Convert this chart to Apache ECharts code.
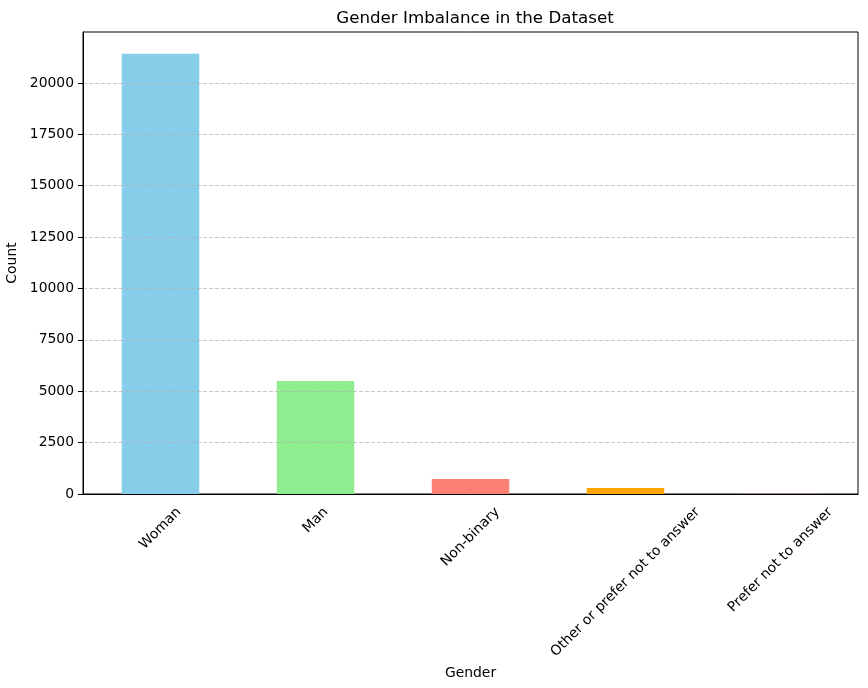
<!DOCTYPE html>
<html>
<head>
<meta charset="utf-8">
<script src="https://cdn.jsdelivr.net/npm/echarts@6/dist/echarts.min.js"></script>
<style>
  html, body { margin: 0; padding: 0; background: #fff; }
  #chart { width: 868px; height: 688px; }
</style>
</head>
<body>
<div id="chart"></div>
<script>
let categories = ['Woman', 'Man', 'Non-binary', 'Other or prefer not to answer', 'Prefer not to answer'];
let counts = [21420, 5500, 730, 290, 8];
let barColors = ['#87CEEB', '#90EE90', '#FA8072', '#FFA500', '#EE82EE'];
let yTicks = [0, 2500, 5000, 7500, 10000, 12500, 15000, 17500, 20000];

const FONT = 'DejaVu Sans';
const LABEL_SIZE = 13.9;

// measure label width so rotated labels can be centred under the tick
let ctx = document.createElement('canvas').getContext('2d');
ctx.font = LABEL_SIZE + 'px "' + FONT + '"';
function centredLabel(name) {
    let w = ctx.measureText(name).width;
    let r = (w + 11) / 2;
    let t = Math.max(0, (w + 11) / 4 - 7);
    return {
        value: name,
        textStyle: { align: 'center', verticalAlign: 'top', padding: [t, r, 0, 0] }
    };
}

window.onload = function () {
    let chart = echarts.init(document.getElementById('chart'));
    let option = {
        animation: false,
        backgroundColor: '#fff',
        textStyle: { fontFamily: FONT },
        title: {
            text: 'Gender Imbalance in the Dataset',
            left: 470,
            top: 5,
            textAlign: 'center',
            textStyle: { fontFamily: FONT, fontSize: 16.7, fontWeight: 'normal', color: '#000' }
        },
        grid: {
            left: 83, right: 10, top: 32, bottom: 194,
            show: true, borderColor: '#000', borderWidth: 1,
            containLabel: false,
            outerBoundsMode: 'none'
        },
        xAxis: {
            type: 'category',
            data: categories.map(centredLabel),
            z: 11,
            name: 'Gender',
            nameLocation: 'middle',
            nameGap: 169,
            nameTextStyle: { fontFamily: FONT, fontSize: LABEL_SIZE, color: '#000' },
            axisLine: { lineStyle: { color: '#000', width: 1 } },
            axisTick: { alignWithLabel: true, length: 5, lineStyle: { color: '#000' } },
            axisLabel: {
                interval: 0,
                rotate: 45,
                margin: 12,
                fontFamily: FONT,
                fontSize: LABEL_SIZE,
                color: '#000'
            },
            splitLine: { show: false }
        },
        yAxis: {
            type: 'value',
            min: 0,
            max: 22480,
            interval: 2500,
            z: 10,
            name: 'Count',
            nameLocation: 'middle',
            nameGap: 58,
            nameTextStyle: { fontFamily: FONT, fontSize: LABEL_SIZE, color: '#000' },
            axisLine: { show: true, lineStyle: { color: '#000', width: 1 } },
            axisTick: { show: true, length: 5, customValues: yTicks, lineStyle: { color: '#000' } },
            axisLabel: {
                customValues: yTicks,
                formatter: (v) => String(v),
                margin: 9,
                fontFamily: FONT,
                fontSize: LABEL_SIZE,
                color: '#000'
            },
            splitLine: {
                show: true,
                lineStyle: { color: 'rgba(176,176,176,0.7)', type: [4, 2], width: 1 }
            }
        },
        series: [
            {
                type: 'bar',
                barWidth: '50%',
                data: counts.map((v, i) => ({ value: v, itemStyle: { color: barColors[i] } }))
            }
        ]
    };
    chart.setOption(option);
};
</script>
</body>
</html>
